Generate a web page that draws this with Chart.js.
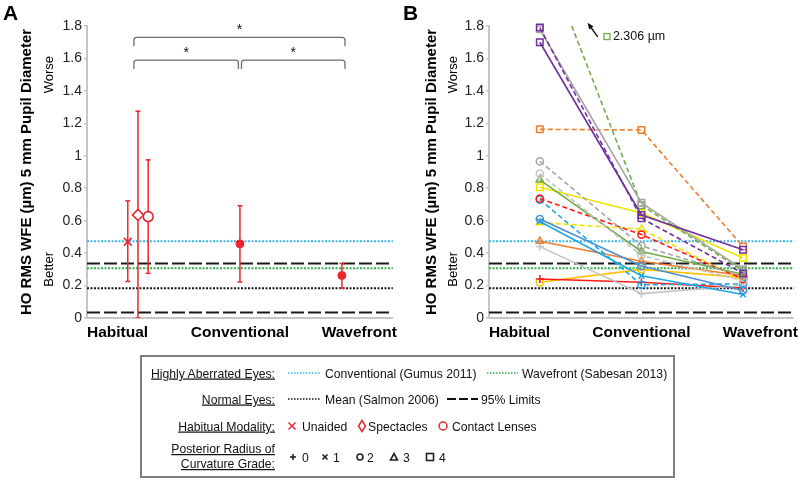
<!DOCTYPE html>
<html>
<head>
<meta charset="utf-8">
<script src="https://cdn.jsdelivr.net/npm/chart.js@4"></script>
<style>
  body { margin: 0; background: #fff; width: 800px; height: 482px; position: relative; overflow: hidden; }
  canvas { position: absolute; top: 0; }
  #chartA { left: 0; }
  #chartB { left: 400px; }
  #legend { position: absolute; left: 0; top: 0; }
</style>
</head>
<body>
<canvas id="chartA" width="400" height="350"></canvas>
<canvas id="chartB" width="400" height="350"></canvas>

<svg id="legend" width="800" height="482" xmlns="http://www.w3.org/2000/svg"
     font-family="Liberation Sans, Arial, sans-serif" font-size="12.2" fill="#111">
  <rect x="141" y="356" width="533" height="121" fill="none" stroke="#7f7f7f" stroke-width="2"/>
  <g text-anchor="end" text-decoration="underline">
    <text x="275" y="377.5">Highly Aberrated Eyes:</text>
    <text x="275" y="403.5">Normal Eyes:</text>
    <text x="275" y="430.5">Habitual Modality:</text>
    <text x="275" y="453">Posterior Radius of</text>
    <text x="275" y="468">Curvature Grade:</text>
  </g>
  <!-- row 1 -->
  <line x1="288" y1="373" x2="320" y2="373" stroke="#3db6e8" stroke-width="1.5" stroke-dasharray="1.5 1.5"/>
  <text x="325" y="377.5">Conventional (Gumus 2011)</text>
  <line x1="487" y1="373" x2="518" y2="373" stroke="#2eb04a" stroke-width="1.5" stroke-dasharray="1.5 1.5"/>
  <text x="522" y="377.5">Wavefront (Sabesan 2013)</text>
  <!-- row 2 -->
  <line x1="288" y1="399" x2="320" y2="399" stroke="#111" stroke-width="1.5" stroke-dasharray="1.5 1.5"/>
  <text x="325" y="403.5">Mean (Salmon 2006)</text>
  <line x1="447" y1="399" x2="478" y2="399" stroke="#111" stroke-width="2" stroke-dasharray="9 3"/>
  <text x="481" y="403.5">95% Limits</text>
  <!-- row 3 -->
  <g stroke="#e8262d" stroke-width="1.5" fill="none">
    <line x1="288.5" y1="422.5" x2="295.5" y2="429.5"/>
    <line x1="295.5" y1="422.5" x2="288.5" y2="429.5"/>
    <polygon points="362,420.5 365.5,426 362,431.5 358.5,426"/>
    <circle cx="443" cy="426" r="4"/>
  </g>
  <text x="302" y="430.5">Unaided</text>
  <text x="368" y="430.5">Spectacles</text>
  <text x="452" y="430.5">Contact Lenses</text>
  <!-- row 4 -->
  <g stroke="#222" stroke-width="1.6" fill="none">
    <line x1="290" y1="457" x2="296" y2="457"/>
    <line x1="293" y1="454" x2="293" y2="460"/>
    <line x1="322.5" y1="454.5" x2="327.5" y2="459.5"/>
    <line x1="327.5" y1="454.5" x2="322.5" y2="459.5"/>
    <circle cx="360" cy="457" r="3"/>
    <polygon points="394,453.5 397.5,460 390.5,460"/>
    <rect x="426.5" y="453.5" width="7" height="7"/>
  </g>
  <text x="302" y="461.5">0</text>
  <text x="333" y="461.5">1</text>
  <text x="367" y="461.5">2</text>
  <text x="403" y="461.5">3</text>
  <text x="439" y="461.5">4</text>
</svg>

<script>
const FONT = 'Liberation Sans, Arial, sans-serif';

// ---- shared axis data ----
const categories = ['Habitual', 'Conventional', 'Wavefront'];
const categoryX = [0.5, 1.5, 2.5];
const categoryLabelX = [0.3, 1.5, 2.67];
const yTickValues = [0, 0.2, 0.4, 0.6, 0.8, 1, 1.2, 1.4, 1.6, 1.8];
const yTickLabels = ['0', '0.2', '0.4', '0.6', '0.8', '1', '1.2', '1.4', '1.6', '1.8'];
const yTitle = 'HO RMS WFE (\u00b5m) 5 mm Pupil Diameter';

// ---- reference lines ----
const gumusConventional = 0.473;
const sabesanWavefront = 0.307;
const salmonMean = 0.184;
const salmonLimits = [0.034, 0.336];

// ---- panel A: means and error bars ----
const habitualModalities = ['Unaided', 'Spectacles', 'Contact Lenses'];
const habitualX = [0.4, 0.5, 0.6];
const habitualMean = [0.47, 0.635, 0.625];
const habitualLow = [0.225, 0.0, 0.275];
const habitualHigh = [0.722, 1.275, 0.975];
const lensMean = [0.457, 0.262];   // Conventional, Wavefront
const lensLow = [0.222, 0.184];
const lensHigh = [0.692, 0.336];
// significance brackets: [from x, to x, level]
const bracketFrom = [0.46, 0.46, 1.515];
const bracketTo = [2.53, 1.485, 2.53];
const bracketLevel = [1.73, 1.59, 1.59];

// ---- panel B: individual eyes (Habitual, Conventional, Wavefront) ----
const eyeHabitual     = [1.79, 1.70, 1.78, 2.306, 1.163, 0.966, 0.89, 0.851, 0.806, 0.736, 0.73, 0.61, 0.595, 0.588, 0.473, 0.44, 0.24, 0.22];
const eyeConventional = [0.615, 0.635, 0.71, 0.695, 1.159, 0.444, 0.385, 0.41, 0.647, 0.514, 0.205, 0.32, 0.26, 0.548, 0.35, 0.15, 0.22, 0.30];
const eyeWavefront    = [0.275, 0.42, 0.30, 0.29, 0.44, 0.26, 0.23, 0.27, 0.37, 0.24, 0.21, 0.17, 0.145, 0.23, 0.26, 0.20, 0.185, 0.25];
const eyeGrade        = [4, 4, 4, 4, 4, 2, 2, 3, 4, 2, 2, 2, 1, 3, 3, 0, 0, 2];
const eyeDashed       = [true, false, false, true, true, true, true, false, false, true, true, false, false, true, false, false, false, false];
const eyeColor = ['#7030a0', '#7030a0', '#a5a5a5', '#70ad47', '#ed7d31', '#a5a5a5', '#c4c4c4', '#70ad47', '#f2e200',
                  '#ff1a1a', '#1aa7e8', '#4a90d6', '#1aa7e8', '#f2e200', '#ed7d31', '#c4c4c4', '#ff1a1a', '#ffc000'];
const offChartValue = 2.306;

const gradeStyle = ['cross', 'crossRot', 'circle', 'triangle', 'rect'];
const gradeRadius = [4, 4, 3.6, 4.2, 4.6];

const red = '#e8262d';

function refLines() {
  const mk = (v, color, dash, width) => ({
    data: [{ x: 0, y: v }, { x: 3, y: v }], showLine: true,
    borderColor: color, borderDash: dash, borderWidth: width, pointRadius: 0
  });
  return [
    mk(gumusConventional, '#3db6e8', [2, 1.5], 2),
    mk(sabesanWavefront, '#2eb04a', [2, 1.5], 2),
    mk(salmonMean, '#1a1a1a', [2, 1.5], 2),
    mk(salmonLimits[0], '#1a1a1a', [13, 4], 2),
    mk(salmonLimits[1], '#1a1a1a', [13, 4], 2)
  ];
}

function makeScales(axisWidth, titlePad) {
  return {
    x: {
      type: 'linear', min: 0, max: 3,
      afterBuildTicks: s => { s.ticks = categoryLabelX.map(v => ({ value: v })); },
      afterFit: s => { s.height = 32; },
      grid: { display: false },
      border: { display: true, color: '#c6c6c6', width: 2 },
      ticks: {
        autoSkip: false, maxRotation: 0, padding: -3, color: '#000',
        font: { family: FONT, size: 15.5, weight: 'bold' },
        callback: (v, i) => categories[i]
      }
    },
    y: {
      min: 0, max: 1.8,
      afterBuildTicks: s => { s.ticks = yTickValues.map(v => ({ value: v })); },
      afterFit: s => { s.width = axisWidth; },
      grid: { drawOnChartArea: false, drawTicks: true, tickLength: 3, color: '#c6c6c6', lineWidth: 1.5 },
      border: { color: '#c6c6c6', width: 2 },
      ticks: {
        padding: 2, color: '#222', font: { family: FONT, size: 14 },
        callback: (v, i) => yTickLabels[i]
      },
      title: {
        display: true, text: yTitle, color: '#000',
        font: { family: FONT, size: 15, weight: 'bold' },
        padding: { top: titlePad, bottom: 0 }
      }
    }
  };
}

// Panel letter, Worse/Better notes, brackets and off-chart note
const panelDecor = {
  id: 'panelDecor',
  afterDraw(chart, args, opts) {
    const ctx = chart.ctx;
    const sx = chart.scales.x, sy = chart.scales.y;
    ctx.save();
    ctx.fillStyle = '#000';
    ctx.font = 'bold 21px ' + FONT;
    ctx.textBaseline = 'top';
    ctx.textAlign = 'left';
    ctx.fillText(opts.letter, 3, 4);

    ctx.font = '13px ' + FONT;
    ctx.textAlign = 'center';
    ctx.textBaseline = 'middle';
    [['Worse', 1.5], ['Better', 0.3]].forEach(([t, v]) => {
      ctx.save();
      ctx.translate(opts.noteX, sy.getPixelForValue(v));
      ctx.rotate(-Math.PI / 2);
      ctx.fillText(t, 0, 0);
      ctx.restore();
    });

    if (opts.brackets) {
      ctx.strokeStyle = '#6d6d6d';
      ctx.lineWidth = 1.3;
      const drop = 9, r = 3;
      bracketLevel.forEach((lv, i) => {
        const x1 = sx.getPixelForValue(bracketFrom[i]);
        const x2 = sx.getPixelForValue(bracketTo[i]);
        const yt = sy.getPixelForValue(lv);
        ctx.beginPath();
        ctx.moveTo(x1, yt + drop);
        ctx.arcTo(x1, yt, x1 + r, yt, r);
        ctx.arcTo(x2, yt, x2, yt + r, r);
        ctx.lineTo(x2, yt + drop);
        ctx.stroke();
        ctx.fillStyle = '#111';
        ctx.font = '14px ' + FONT;
        ctx.fillText('*', (x1 + x2) / 2, yt - 7);
      });
    }

    if (opts.offChart) {
      const tipX = sx.getPixelForValue(0.97), tipY = sy.getPixelForValue(1.82);
      const tailX = sx.getPixelForValue(1.07), tailY = sy.getPixelForValue(1.733);
      const ang = Math.atan2(tipY - tailY, tipX - tailX);
      ctx.strokeStyle = '#111';
      ctx.fillStyle = '#111';
      ctx.lineWidth = 1.4;
      ctx.beginPath();
      ctx.moveTo(tailX, tailY);
      ctx.lineTo(tipX - 4 * Math.cos(ang), tipY - 4 * Math.sin(ang));
      ctx.stroke();
      ctx.beginPath();
      ctx.moveTo(tipX, tipY);
      ctx.lineTo(tipX - 7 * Math.cos(ang - 0.4), tipY - 7 * Math.sin(ang - 0.4));
      ctx.lineTo(tipX - 7 * Math.cos(ang + 0.4), tipY - 7 * Math.sin(ang + 0.4));
      ctx.closePath();
      ctx.fill();
      const qx = sx.getPixelForValue(1.16), qy = sy.getPixelForValue(1.735);
      ctx.strokeStyle = '#70ad47';
      ctx.lineWidth = 1.3;
      ctx.strokeRect(qx - 3, qy - 3, 6, 6);
      ctx.fillStyle = '#111';
      ctx.font = '12.5px ' + FONT;
      ctx.textAlign = 'left';
      ctx.fillText(offChartValue.toFixed(3) + ' \u00b5m', qx + 6, qy + 0.5);
    }
    ctx.restore();
  }
};

const common = {
  responsive: false, animation: false, devicePixelRatio: 1,
  plugins: { legend: { display: false }, tooltip: { enabled: false } }
};

// ---- Panel A ---- (first datasets are drawn on top)
const dsA = [];
const shapesA = [
  { pointStyle: 'crossRot', pointRadius: 5.5 },
  { pointStyle: 'rectRot', pointRadius: 5.5 },
  { pointStyle: 'circle', pointRadius: 5 }
];
habitualModalities.forEach((m, i) => {
  dsA.push({
    label: m, data: [{ x: habitualX[i], y: habitualMean[i] }],
    pointStyle: shapesA[i].pointStyle, pointRadius: shapesA[i].pointRadius,
    pointBorderColor: red, pointBackgroundColor: '#fff', pointBorderWidth: 1.6
  });
});
lensMean.forEach((v, i) => {
  dsA.push({
    data: [{ x: categoryX[i + 1], y: v }], pointStyle: 'circle', pointRadius: 4,
    pointBorderColor: red, pointBackgroundColor: red, pointBorderWidth: 1
  });
});
const errX = habitualX.concat(categoryX.slice(1));
const errLow = habitualLow.concat(lensLow);
const errHigh = habitualHigh.concat(lensHigh);
errX.forEach((x, i) => {
  dsA.push({
    data: [{ x: x, y: errLow[i] }, { x: x, y: errHigh[i] }], showLine: true,
    borderColor: red, borderWidth: 1.5, pointStyle: 'line', pointRadius: 2.5,
    pointBorderColor: red, pointBorderWidth: 1.5
  });
});
dsA.push(...refLines());

new Chart(document.getElementById('chartA'), {
  type: 'scatter',
  data: { datasets: dsA },
  options: Object.assign({}, common, {
    layout: { padding: { left: 0, top: 26, right: 7, bottom: 0 } },
    scales: makeScales(87, 17.5),
    plugins: Object.assign({}, common.plugins, {
      panelDecor: { letter: 'A', noteX: 49, brackets: true }
    })
  }),
  plugins: [panelDecor]
});

// ---- Panel B ----
const dsB = [];
eyeHabitual.forEach((h, i) => {
  const g = eyeGrade[i];
  const offTop = h > 1.8;
  dsB.push({
    data: [
      { x: categoryX[0], y: h },
      { x: categoryX[1], y: eyeConventional[i] },
      { x: categoryX[2], y: eyeWavefront[i] }
    ],
    showLine: true, borderColor: eyeColor[i], borderWidth: 1.6,
    borderDash: eyeDashed[i] ? [5, 3] : [],
    clip: { left: 6, right: 6, bottom: 6, top: offTop ? 0 : 6 },
    pointStyle: gradeStyle[g], pointRadius: gradeRadius[g],
    pointBorderColor: eyeColor[i], pointBackgroundColor: 'rgba(255,255,255,0)',
    pointBorderWidth: 1.5
  });
});
dsB.push(...refLines());

new Chart(document.getElementById('chartB'), {
  type: 'scatter',
  data: { datasets: dsB },
  options: Object.assign({}, common, {
    layout: { padding: { left: 0, top: 26, right: 5, bottom: 0 } },
    scales: makeScales(89, 22.5),
    plugins: Object.assign({}, common.plugins, {
      panelDecor: { letter: 'B', noteX: 53, offChart: true }
    })
  }),
  plugins: [panelDecor]
});
</script>
</body>
</html>
